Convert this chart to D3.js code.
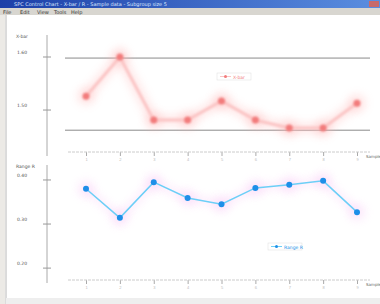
<!DOCTYPE html>
<html>
<head>
<meta charset="utf-8">
<script src="https://cdn.jsdelivr.net/npm/d3@7"></script>
<style>
  body { margin: 0; background: #fff; }
  svg { display: block; font-family: "DejaVu Sans", sans-serif; }
</style>
</head>
<body>
<svg id="chart" width="380" height="304"></svg>
<script>
// data
var samples = [1, 2, 3, 4, 5, 6, 7, 8, 9];
var xbarValues = [1.526, 1.600, 1.481, 1.481, 1.517, 1.481, 1.466, 1.466, 1.513];
var xbarTicks = [1.50, 1.60];
var xbarLimits = [1.598, 1.462];
var rangeValues = [0.380, 0.314, 0.395, 0.359, 0.345, 0.382, 0.389, 0.398, 0.327];
var rangeTicks = [0.20, 0.30, 0.40];
var menuItems = ["File", "Edit", "View", "Tools", "Help"];

var svg = d3.select("#chart");

var defs = svg.append("defs");
var grad = defs.append("linearGradient").attr("id", "titlebar");
grad.append("stop").attr("offset", "0%").attr("stop-color", "#1c3fa8");
grad.append("stop").attr("offset", "100%").attr("stop-color", "#5a8ee0");
defs.append("filter").attr("id", "glow").attr("x", "-50%").attr("y", "-50%")
  .attr("width", "200%").attr("height", "200%")
  .append("feGaussianBlur").attr("stdDeviation", 4);
defs.append("filter").attr("id", "soft").attr("x", "-50%").attr("y", "-50%")
  .attr("width", "200%").attr("height", "200%")
  .append("feGaussianBlur").attr("stdDeviation", 0.8);

// window frame
svg.append("rect").attr("width", 380).attr("height", 304).attr("fill", "#fff");
svg.append("rect").attr("width", 380).attr("height", 8).attr("fill", "url(#titlebar)");
svg.append("text").attr("x", 14).attr("y", 6).attr("fill", "#dde8ff")
  .style("font-size", "5px").text("SPC Control Chart  -  X-bar / R  -  Sample data  -  Subgroup size 5");
svg.append("rect").attr("x", 369).attr("y", 1).attr("width", 10).attr("height", 6).attr("fill", "#c86a6a");
svg.append("rect").attr("y", 8).attr("width", 380).attr("height", 7).attr("fill", "#d8d6d0");
svg.selectAll(".menu").data(menuItems).enter().append("text")
  .attr("x", function(d, i) { return 3 + i * 17; }).attr("y", 13.5)
  .attr("fill", "#333").style("font-size", "5px").text(function(d) { return d; });
svg.append("rect").attr("x", 0).attr("y", 15).attr("width", 5).attr("height", 289).attr("fill", "#eceae6");
svg.append("line").attr("x1", 6).attr("x2", 6).attr("y1", 15).attr("y2", 304).attr("stroke", "#b8b8b8");
svg.append("rect").attr("x", 6).attr("y", 298).attr("width", 374).attr("height", 6).attr("fill", "#eeeeee");

var x = d3.scalePoint().domain(samples).range([86, 357]);

function drawChart(opt) {
  var y = d3.scaleLinear().domain(opt.domain).range([opt.bottom, opt.top]);
  var g = svg.append("g");

  // y axis
  g.append("line").attr("x1", 47).attr("x2", 47).attr("y1", opt.top).attr("y2", opt.bottom + 3)
    .attr("stroke", "#aaa");
  g.selectAll(".yt").data(opt.ticks).enter().append("line")
    .attr("x1", 43).attr("x2", 51)
    .attr("y1", function(d) { return y(d); }).attr("y2", function(d) { return y(d); })
    .attr("stroke", "#999");
  g.selectAll(".yl").data(opt.ticks).enter().append("text")
    .attr("x", 17).attr("y", function(d) { return y(d) - 3; })
    .attr("fill", "#555").style("font-size", "4.5px")
    .text(function(d) { return d3.format(".2f")(d); });
  g.append("text").attr("x", 16).attr("y", opt.top + 3).attr("fill", "#555")
    .style("font-size", "4.5px").text(opt.title);

  // x axis
  var xa = d3.axisBottom(x).tickSize(4).tickPadding(2);
  var ax = g.append("g").attr("transform", "translate(0," + opt.axisY + ")").call(xa);
  ax.select(".domain").remove();
  ax.append("line").attr("x1", 68).attr("x2", 370).attr("stroke", "#ccc")
    .attr("stroke-dasharray", "3,1");
  ax.selectAll(".tick line").attr("stroke", "#aaa");
  ax.selectAll(".tick text").attr("fill", "#bbb").style("font-size", "4px");
  g.append("text").attr("x", 366).attr("y", opt.axisY + 6).attr("fill", "#666")
    .style("font-size", "4px").text("Sample");

  // control limits
  g.selectAll(".lim").data(opt.limits).enter().append("line")
    .attr("x1", 65).attr("x2", 370)
    .attr("y1", function(d) { return y(d); }).attr("y2", function(d) { return y(d); })
    .attr("stroke", "#8a8a8a").attr("stroke-width", 1);

  var line = d3.line().x(function(d, i) { return x(samples[i]); }).y(function(d) { return y(d); });

  // halo
  g.append("path").datum(opt.values).attr("d", line).attr("fill", "none")
    .attr("stroke", opt.halo).attr("stroke-width", opt.haloWidth).attr("opacity", opt.haloOpacity)
    .attr("filter", "url(#glow)");
  g.selectAll(".halo").data(opt.values).enter().append("circle")
    .attr("cx", function(d, i) { return x(samples[i]); }).attr("cy", function(d) { return y(d); })
    .attr("r", 9).attr("fill", opt.halo).attr("opacity", opt.haloOpacity)
    .attr("filter", "url(#glow)");

  g.append("path").datum(opt.values).attr("d", line).attr("fill", "none")
    .attr("stroke", opt.lineColor).attr("stroke-width", opt.lineWidth)
    .attr("filter", opt.soft ? "url(#soft)" : null);
  g.selectAll(".pt").data(opt.values).enter().append("circle")
    .attr("cx", function(d, i) { return x(samples[i]); }).attr("cy", function(d) { return y(d); })
    .attr("r", opt.pointR).attr("fill", opt.pointColor)
    .attr("filter", opt.soft ? "url(#soft)" : null);

  // legend
  var lg = g.append("g").attr("transform", "translate(" + opt.legend[0] + "," + opt.legend[1] + ")");
  lg.append("rect").attr("width", 34).attr("height", 7).attr("fill", "#fff")
    .attr("stroke", "#ddd").attr("stroke-width", 0.5);
  lg.append("line").attr("x1", 3).attr("x2", 14).attr("y1", 3.5).attr("y2", 3.5)
    .attr("stroke", opt.lineColor).attr("stroke-width", 1);
  lg.append("circle").attr("cx", 8.5).attr("cy", 3.5).attr("r", 1.5).attr("fill", opt.pointColor);
  lg.append("text").attr("x", 16).attr("y", 5.5).attr("fill", opt.pointColor)
    .style("font-size", "4.5px").text(opt.legendText);
}

drawChart({
  values: xbarValues, ticks: xbarTicks, limits: xbarLimits, title: "X-bar",
  domain: [1.419, 1.6415], top: 35, bottom: 153, axisY: 152,
  lineColor: "#fbc4c4", lineWidth: 3, pointColor: "#f27c7c", pointR: 3.5, soft: true,
  halo: "#ffb0b0", haloWidth: 10, haloOpacity: 0.3,
  legend: [217, 73], legendText: "X-bar"
});

drawChart({
  values: rangeValues, ticks: rangeTicks, limits: [], title: "Range R",
  domain: [0.173, 0.434], top: 165, bottom: 280, axisY: 280,
  lineColor: "#6ccff7", lineWidth: 1.5, pointColor: "#1e8fe8", pointR: 3, soft: false,
  halo: "#f5a8f0", haloWidth: 8, haloOpacity: 0.2,
  legend: [268, 243], legendText: "Range R"
});
</script>
</body>
</html>
